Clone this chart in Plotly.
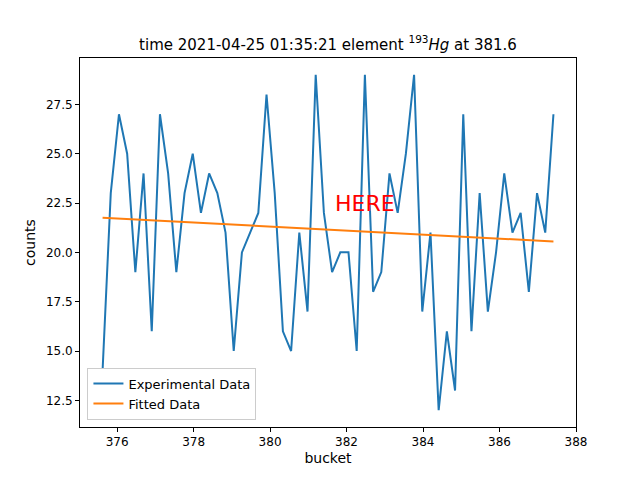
import numpy as np
import plotly.graph_objects as go

counts = [14,23,27,25,19,24,16,27,24,19,23,25,22,24,23,21,15,20,21,22,28,23,16,15,21,17,29,22,
          19,20,20,15,29,18,19,24,22,25,29,17,21,12,16,13,27,16,23,17,20,24,21,22,18,23,21,27]
x_start, x_end = 375.62, 387.41
buckets = np.linspace(x_start, x_end, len(counts))
fit_x = [x_start, x_end]
fit_y = [21.76, 20.55]

fig = go.Figure()
fig.add_trace(go.Scatter(x=buckets, y=counts, mode="lines", name="Experimental Data",
                         line=dict(color="#1f77b4", width=2)))
fig.add_trace(go.Scatter(x=fit_x, y=fit_y, mode="lines", name="Fitted Data",
                         line=dict(color="#ff7f0e", width=2)))
fig.add_annotation(x=382.48, y=22.5, text="HERE", showarrow=False,
                   font=dict(color="red", size=22))
ax = dict(showgrid=False, zeroline=False, showline=True, mirror=True, linecolor="black",
          ticks="outside", ticklen=4, tickcolor="black")
fig.update_layout(
    width=640, height=480, plot_bgcolor="white", paper_bgcolor="white",
    font=dict(family="DejaVu Sans", size=12, color="black"),
    margin=dict(l=72, r=72, t=50, b=61),
    title=dict(text="time 2021-04-25 01:35:21 element <sup>193</sup><i>Hg</i> at 381.6",
               x=0.5, xanchor="center", y=0.935, font=dict(size=15)),
    xaxis=dict(ax, range=[375.03, 388.0], tickvals=[376,378,380,382,384,386,388],
               title=dict(text="bucket", standoff=4)),
    yaxis=dict(ax, range=[11.15, 29.85], tickvals=[12.5,15,17.5,20,22.5,25,27.5],
               tickformat=".1f", title=dict(text="counts", standoff=6)),
    legend=dict(x=0.015, y=0.02, xanchor="left", yanchor="bottom",
                bordercolor="#cccccc", borderwidth=1, bgcolor="white",
                font=dict(size=13)),
    showlegend=True,
)
fig.write_html("out.html")
